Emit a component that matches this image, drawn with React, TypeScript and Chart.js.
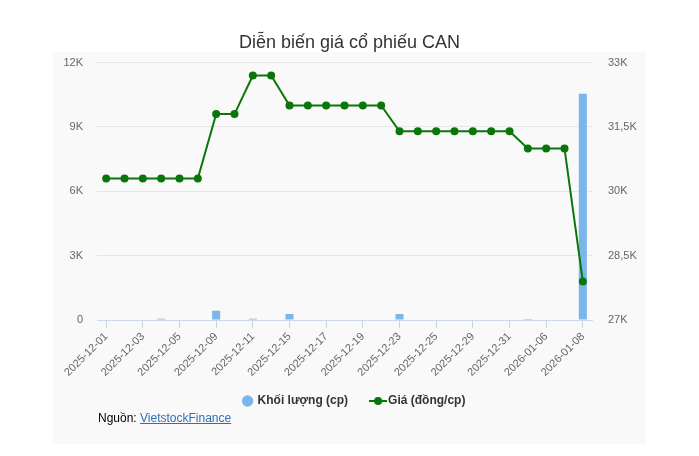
import React, { useEffect, useRef } from "react";
import { Chart, registerables } from "chart.js";

Chart.register(...registerables);

const dates = [
  "2025-12-01", "2025-12-02", "2025-12-03", "2025-12-04", "2025-12-05",
  "2025-12-08", "2025-12-09", "2025-12-10", "2025-12-11", "2025-12-12",
  "2025-12-15", "2025-12-16", "2025-12-17", "2025-12-18", "2025-12-19",
  "2025-12-22", "2025-12-23", "2025-12-24", "2025-12-25", "2025-12-26",
  "2025-12-29", "2025-12-30", "2025-12-31", "2026-01-05", "2026-01-06",
  "2026-01-07", "2026-01-08",
];

const volumes = [
  0, 0, 0, 60, 0, 0, 430, 0, 60, 0, 280, 0, 0, 0, 0, 0, 280, 0, 0, 0, 0, 0, 0,
  50, 0, 0, 10550,
];

const prices = [
  30300, 30300, 30300, 30300, 30300, 30300, 31800, 31800, 32700, 32700, 32000,
  32000, 32000, 32000, 32000, 32000, 31400, 31400, 31400, 31400, 31400, 31400,
  31400, 31000, 31000, 31000, 27900,
];

const volumeLabel = "Khối lượng (cp)";
const priceLabel = "Giá (đồng/cp)";
const titleText = "Diễn biến giá cổ phiếu CAN";

const FONT = "'Liberation Sans', Arial, Helvetica, sans-serif";
const BAR_COLOR = "#7cb5ec";
const LINE_COLOR = "#0a760a";

function fmtK(v: number): string {
  if (v === 0) return "0";
  return String(v / 1000).replace(".", ",") + "K";
}

function makeLineIcon(): HTMLCanvasElement {
  const c = document.createElement("canvas");
  c.width = 18;
  c.height = 10;
  const g = c.getContext("2d")!;
  g.strokeStyle = LINE_COLOR;
  g.lineWidth = 2;
  g.beginPath();
  g.moveTo(0, 5);
  g.lineTo(18, 5);
  g.stroke();
  g.fillStyle = LINE_COLOR;
  g.beginPath();
  g.arc(9, 5, 4, 0, Math.PI * 2);
  g.fill();
  return c;
}

const panelPlugin = {
  id: "panelBg",
  beforeDraw(chart: any) {
    const ctx = chart.ctx;
    ctx.save();
    ctx.fillStyle = "#f9f9f9";
    ctx.fillRect(53, 52, 593, 392);
    ctx.restore();
  },
};

const legendShiftPlugin = {
  id: "legendShift",
  afterLayout(chart: any) {
    const lg = chart.legend;
    if (lg) {
      lg.left += 5;
      lg.right += 5;
      lg.top -= 11;
      lg.bottom -= 11;
    }
  },
};

export default function App() {
  const ref = useRef<HTMLCanvasElement | null>(null);

  useEffect(() => {
    document.body.style.margin = "0";
    const icon = makeLineIcon();
    const chart = new Chart(ref.current!, {
      type: "bar",
      data: {
        labels: dates,
        datasets: [
          {
            type: "bar",
            label: volumeLabel,
            data: volumes,
            backgroundColor: BAR_COLOR,
            yAxisID: "y",
            barPercentage: 0.44,
            categoryPercentage: 1,
            order: 2,
          },
          {
            type: "line",
            label: priceLabel,
            data: prices,
            borderColor: LINE_COLOR,
            backgroundColor: LINE_COLOR,
            borderWidth: 2,
            pointRadius: 4,
            pointBackgroundColor: LINE_COLOR,
            pointBorderColor: LINE_COLOR,
            pointBorderWidth: 0,
            tension: 0,
            yAxisID: "y1",
            order: 1,
          },
        ] as any,
      },
      options: {
        animation: false,
        responsive: false,
        maintainAspectRatio: false,
        layout: { padding: { left: 0, right: 0, top: 0, bottom: 28 } },
        plugins: {
          title: {
            display: true,
            text: titleText,
            color: "#333333",
            font: { family: FONT, size: 18, weight: "normal" },
            padding: { top: 32, bottom: 9 },
          },
          legend: {
            position: "bottom",
            labels: {
              usePointStyle: true,
              boxHeight: 8,
              boxWidth: 8,
              padding: 26,
              color: "#333333",
              font: { family: FONT, size: 12, weight: "bold" },
              sort: (a: any, b: any) => a.datasetIndex - b.datasetIndex,
              generateLabels(ch: any) {
                const items = (Chart.defaults.plugins.legend.labels as any).generateLabels(ch);
                items.forEach((it: any) => {
                  if (it.datasetIndex === 0) {
                    it.pointStyle = "circle";
                    it.fillStyle = BAR_COLOR;
                    it.strokeStyle = BAR_COLOR;
                    it.lineWidth = 0;
                  } else {
                    it.pointStyle = icon;
                  }
                });
                return items;
              },
            },
          },
          tooltip: { enabled: false },
        },
        scales: {
          x: {
            type: "category",
            offset: true,
            afterFit(scale: any) {
              scale.height = 60;
            },
            grid: {
              display: true,
              drawOnChartArea: false,
              drawTicks: true,
              tickLength: 8,
              offset: false,
              color: (c: any) => (c.index % 2 === 0 ? "#ccd6eb" : "rgba(0,0,0,0)"),
            },
            border: { display: true, color: "#ccd6eb" },
            ticks: {
              autoSkip: false,
              maxRotation: 45,
              minRotation: 45,
              padding: 2,
              color: "#666666",
              font: { family: FONT, size: 11 },
              callback: (_v: any, i: number) => (i % 2 === 0 ? dates[i] : ""),
            },
          },
          y: {
            position: "left",
            min: 0,
            max: 12000,
            afterFit(scale: any) {
              scale.width = 97;
            },
            grid: { color: "#e6e6e6", drawTicks: false },
            border: { display: false },
            ticks: {
              stepSize: 3000,
              padding: 14,
              color: "#666666",
              font: { family: FONT, size: 11 },
              callback: (v: any) => fmtK(Number(v)),
            },
          },
          y1: {
            position: "right",
            min: 27000,
            max: 33000,
            afterFit(scale: any) {
              scale.width = 107;
            },
            grid: { drawOnChartArea: false, drawTicks: false },
            border: { display: false },
            ticks: {
              stepSize: 1500,
              padding: 16,
              color: "#666666",
              font: { family: FONT, size: 11 },
              callback: (v: any) => fmtK(Number(v)),
            },
          },
        },
      } as any,
      plugins: [panelPlugin, legendShiftPlugin],
    });
    return () => chart.destroy();
  }, []);

  return (
    <div style={{ position: "relative", width: 699, height: 456, background: "#ffffff" }}>
      <canvas ref={ref} width={699} height={456} style={{ display: "block", width: 699, height: 456 }} />
      <div
        style={{
          position: "absolute",
          left: 98,
          top: 411,
          fontFamily: FONT,
          fontSize: 12,
          lineHeight: "14px",
          color: "#000000",
        }}
      >
        Nguồn: <a href="#" style={{ color: "#2f6fb6", textDecoration: "underline" }}>VietstockFinance</a>
      </div>
    </div>
  );
}
